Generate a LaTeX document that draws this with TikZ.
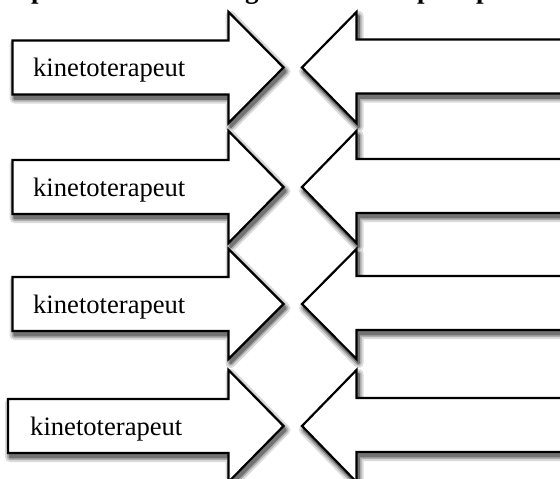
\documentclass[tikz,border=0pt]{standalone}
\usepackage{fontspec}
\setmainfont{Liberation Serif}
\tikzset{
  larrow/.style n args={4}{insert path={(#3,#1-27) -- (228.5,#1-27) -- (228.5,#1-#2) -- (283.5,#1) -- (228.5,#1+#2) -- (228.5,#1+27) -- (#3,#1+27) -- cycle}},
  rarrow/.style n args={2}{insert path={(600,#1-28) -- (356.5,#1-28) -- (356.5,#1-#2) -- (302,#1) -- (356.5,#1+#2) -- (356.5,#1+26) -- (600,#1+26) -- cycle}},
  arr/.style={draw=black, line width=2.2pt, fill=white, line join=miter},
  lbl/.style={anchor=base west, inner sep=0pt, font=\fontsize{26.6}{30}\selectfont},
  ttl/.style={anchor=base west, inner sep=0pt, font=\bfseries\fontsize{27}{30}\selectfont},
}
\colorlet{shadeA}{black!14}
\colorlet{shadeB}{black!32}
\colorlet{shadeC}{black!55}
\begin{document}
\begin{tikzpicture}[x=1pt,y=-1pt]
\useasboundingbox (0,0) rectangle (560,479);
\fill[white] (0,0) rectangle (560,479);
\begin{scope}
\clip (0,0) rectangle (560,479);
\node[ttl] (t1) at (31,-1.5) {p};
\node[ttl] (t2) at (245,-1.5) {g};
\node[ttl] (t3) at (417,-1.5) {p};
\node[ttl] (t4) at (476,-1.5) {p};
\foreach \col/\lw in {shadeA/10pt,shadeB/6pt,shadeC/2.5pt} {
  \foreach \c/\h/\l in {67.5/55.5/12.5,187/56/12.5,304/55/12.5,426/56/8} {
    \filldraw[draw=\col, fill=\col, line width=\lw, line join=round, xshift=2pt, yshift=-4pt] (\l,\c-27) -- (228.5,\c-27) -- (228.5,\c-\h) -- (283.5,\c) -- (228.5,\c+\h) -- (228.5,\c+27) -- (\l,\c+27) -- cycle;
    \filldraw[draw=\col, fill=\col, line width=\lw, line join=round, xshift=2pt, yshift=-4pt] (600,\c-28) -- (356.5,\c-28) -- (356.5,\c-\h) -- (302,\c) -- (356.5,\c+\h) -- (356.5,\c+26) -- (600,\c+26) -- cycle;
  }
}
\foreach \c/\h/\l/\d/\n in {67.5/55.5/12.5/20.5/1,187/56/12.5/20.5/2,304/55/12.5/20.5/3,426/56/8/22/4} {
  \path[arr, larrow={\c}{\h}{\l}{}];
  \path[arr, rarrow={\c}{\h}];
  \node[lbl] (k\n) at (\l+\d,\c+9) {kinetoterapeut};
}
\end{scope}
\end{tikzpicture}
\end{document}
